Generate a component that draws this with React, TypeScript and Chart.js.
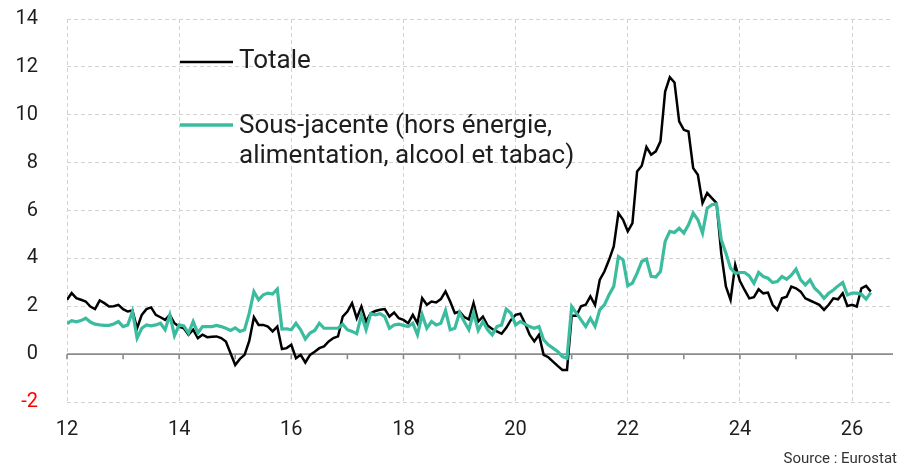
import React, { useEffect, useRef } from "react";
import { Chart, registerables } from "chart.js";

Chart.register(...registerables);

// ---- Data (monthly, starting January 2012) ----
const startYear = 2012;

const totale = [
  // 2012
  2.27, 2.55, 2.34, 2.27, 2.2, 1.99, 1.88, 2.24, 2.13, 1.99, 2.0, 2.06,
  // 2013
  1.88, 1.78, 1.82, 1.08, 1.64, 1.88, 1.95, 1.64, 1.54, 1.43, 1.64, 1.29,
  // 2014
  1.15, 1.08, 0.81, 1.02, 0.67, 0.81, 0.71, 0.73, 0.74, 0.67, 0.53, 0.04,
  // 2015
  -0.45, -0.2, -0.03, 0.55, 1.54, 1.22, 1.22, 1.15, 0.95, 1.15, 0.21, 0.25,
  // 2016
  0.39, -0.17, -0.03, -0.35, -0.03, 0.1, 0.25, 0.32, 0.53, 0.67, 0.74, 1.57,
  // 2017
  1.78, 2.13, 1.5, 1.99, 1.36, 1.71, 1.8, 1.85, 1.88, 1.57, 1.74, 1.5,
  // 2018
  1.43, 1.29, 1.64, 1.29, 2.34, 2.06, 2.2, 2.16, 2.3, 2.62, 2.2, 1.71,
  // 2019
  1.78, 1.55, 1.45, 2.13, 1.36, 1.57, 1.2, 1.05, 0.95, 0.85, 1.1, 1.43,
  // 2020
  1.64, 1.69, 1.29, 0.81, 0.53, 0.81, -0.03, -0.13, -0.31, -0.49, -0.66, -0.66,
  // 2021
  1.6, 1.6, 2.0, 2.06, 2.41, 2.05, 3.1, 3.45, 3.94, 4.5, 5.89, 5.61,
  // 2022
  5.13, 5.47, 7.63, 7.87, 8.65, 8.33, 8.47, 8.89, 10.97, 11.57, 11.35, 9.72,
  // 2023
  9.37, 9.3, 7.77, 7.49, 6.31, 6.73, 6.52, 6.31, 4.22, 2.83, 2.27, 3.73,
  // 2024
  3.05, 2.68, 2.33, 2.38, 2.71, 2.54, 2.57, 2.06, 1.85, 2.33, 2.4, 2.82,
  // 2025
  2.75, 2.61, 2.33, 2.24, 2.15, 2.06, 1.85, 2.06, 2.33, 2.29, 2.54, 2.01,
  // 2026
  2.06, 1.99, 2.75, 2.85, 2.61,
];

const sousJacente = [
  // 2012
  1.27, 1.4, 1.35, 1.4, 1.5, 1.34, 1.25, 1.22, 1.2, 1.2, 1.26, 1.36,
  // 2013
  1.15, 1.22, 1.78, 0.67, 1.08, 1.22, 1.18, 1.22, 1.29, 1.02, 1.64, 0.77,
  // 2014
  1.22, 1.18, 0.88, 1.36, 0.88, 1.15, 1.15, 1.15, 1.2, 1.15, 1.08, 0.99,
  // 2015
  1.1, 0.95, 1.02, 1.71, 2.61, 2.27, 2.48, 2.55, 2.51, 2.72, 1.05, 1.06,
  // 2016
  1.02, 1.29, 1.02, 0.63, 0.88, 0.99, 1.29, 1.08, 1.08, 1.08, 1.08, 1.25,
  // 2017
  1.02, 0.95, 0.85, 1.64, 1.02, 1.69, 1.64, 1.69, 1.57, 1.08, 1.22, 1.25,
  // 2018
  1.2, 1.15, 1.29, 0.81, 1.65, 1.08, 1.36, 1.22, 1.29, 1.82, 1.02, 1.08,
  // 2019
  1.74, 1.36, 1.02, 1.74, 0.99, 1.36, 1.02, 0.81, 1.15, 1.22, 1.88, 1.71,
  // 2020
  1.22, 1.36, 1.25, 1.15, 1.08, 1.15, 0.6, 0.39, 0.25, 0.11, -0.1, -0.17,
  // 2021
  1.99, 1.71, 1.43, 1.15, 1.5, 1.16, 1.85, 2.06, 2.48, 2.83, 4.08, 3.94,
  // 2022
  2.86, 2.97, 3.38, 3.87, 3.97, 3.25, 3.22, 3.45, 4.71, 5.13, 5.08, 5.26,
  // 2023
  5.06, 5.4, 5.89, 5.61, 5.06, 6.1, 6.24, 6.28, 4.78, 4.22, 3.59, 3.38,
  // 2024
  3.41, 3.41, 3.27, 2.96, 3.41, 3.24, 3.17, 2.99, 3.03, 3.24, 3.13, 3.3,
  // 2025
  3.55, 3.1, 2.89, 3.1, 2.75, 2.57, 2.33, 2.54, 2.68, 2.85, 2.99, 2.47,
  // 2026
  2.55, 2.55, 2.5, 2.3, 2.57,
];

const tickYears = [2012, 2013, 2014, 2015, 2016, 2017, 2018, 2019, 2020, 2021, 2022, 2023, 2024, 2025, 2026];
const labelYears = [2012, 2014, 2016, 2018, 2020, 2022, 2024, 2026];
const xTickLabels = ["12", "14", "16", "18", "20", "22", "24", "26"];
const yMin = -2;
const yMax = 14;
const yStep = 2;
const xMin = 2012;
const xMax = 2026.73;

const seriesNames = ["Totale", "Sous-jacente (hors énergie,\nalimentation, alcool et tabac)"];
const sourceText = "Source : Eurostat";

// ---- Styles ----
const FONT = "Roboto, 'Noto Sans', 'DejaVu Sans', sans-serif";
const BLACK = "#000000";
const GREEN = "#3bbc9e";
const GRID = "#d2d2d2";
const TEXT = "#1e1e1e";

const toPoints = (arr: number[]) => arr.map((v, i) => ({ x: startYear + i / 12, y: v }));

const decorations = {
  id: "decorations",
  beforeDatasetsDraw(chart: any) {
    const { ctx, chartArea, scales } = chart;
    const y0 = scales.y.getPixelForValue(0);
    ctx.save();
    ctx.strokeStyle = "#8c8c8c";
    ctx.lineWidth = 1.6;
    ctx.beginPath();
    ctx.moveTo(chartArea.left, y0);
    ctx.lineTo(chartArea.right, y0);
    for (const yr of tickYears) {
      const x = scales.x.getPixelForValue(yr);
      ctx.moveTo(x, y0);
      ctx.lineTo(x, y0 + 5);
    }
    ctx.stroke();
    ctx.restore();
  },
  afterDraw(chart: any) {
    const { ctx } = chart;
    ctx.save();
    // legend
    ctx.lineCap = "butt";
    ctx.strokeStyle = BLACK;
    ctx.lineWidth = 2.4;
    ctx.beginPath();
    ctx.moveTo(180, 62);
    ctx.lineTo(233, 62);
    ctx.stroke();
    ctx.strokeStyle = GREEN;
    ctx.lineWidth = 3.5;
    ctx.beginPath();
    ctx.moveTo(180, 125);
    ctx.lineTo(233, 125);
    ctx.stroke();

    ctx.fillStyle = TEXT;
    ctx.font = `26px ${FONT}`;
    ctx.textAlign = "left";
    ctx.textBaseline = "alphabetic";
    ctx.fillText(seriesNames[0], 239, 68);
    const lines = seriesNames[1].split("\n");
    lines.forEach((line, k) => ctx.fillText(line, 239, 133 + k * 30));

    // source
    ctx.font = `15px ${FONT}`;
    ctx.fillStyle = "#333333";
    ctx.textAlign = "right";
    ctx.fillText(sourceText, 897, 463);
    ctx.restore();
  },
};

export default function App() {
  const canvasRef = useRef<HTMLCanvasElement | null>(null);

  useEffect(() => {
    document.body.style.margin = "0";
    const canvas = canvasRef.current;
    if (!canvas) return;
    const chart = new Chart(canvas, {
      type: "line",
      data: {
        datasets: [
          {
            label: seriesNames[1],
            data: toPoints(sousJacente),
            borderColor: GREEN,
            borderWidth: 3.2,
            pointRadius: 0,
            tension: 0,
            fill: false,
          },
          {
            label: seriesNames[0],
            data: toPoints(totale),
            borderColor: BLACK,
            borderWidth: 2.5,
            pointRadius: 0,
            tension: 0,
            fill: false,
          },
        ],
      },
      options: {
        responsive: false,
        animation: false,
        devicePixelRatio: 1,
        layout: { padding: { top: 19, right: 11, left: 0, bottom: 0 } },
        plugins: {
          legend: { display: false },
          tooltip: { enabled: false },
          title: { display: false },
        },
        scales: {
          x: {
            type: "linear",
            min: xMin,
            max: xMax,
            afterFit: (s: any) => {
              s.height = 66;
              s.paddingLeft = 0;
              s.paddingRight = 0;
            },
            afterBuildTicks: (s: any) => {
              s.ticks = tickYears.map((v) => ({ value: v }));
            },
            ticks: {
              autoSkip: false,
              maxRotation: 0,
              minRotation: 0,
              padding: 16,
              color: TEXT,
              font: { family: FONT, size: 20 },
              callback: (v: any) => {
                const idx = labelYears.indexOf(Number(v));
                return idx >= 0 ? xTickLabels[idx] : "";
              },
            },
            grid: {
              drawTicks: false,
              lineWidth: 1,
              color: (c: any) =>
                c.tick && labelYears.indexOf(c.tick.value) >= 0 ? GRID : "rgba(0,0,0,0)",
            },
            border: { display: false, dash: [4, 3] },
          },
          y: {
            type: "linear",
            min: yMin,
            max: yMax,
            afterFit: (s: any) => {
              s.width = 67;
              s.paddingTop = 0;
              s.paddingBottom = 0;
            },
            ticks: {
              stepSize: yStep,
              padding: 29,
              font: { family: FONT, size: 20 },
              color: (c: any) => (c.tick && c.tick.value < 0 ? "#ff0000" : TEXT),
            },
            grid: { drawTicks: false, color: GRID, lineWidth: 1 },
            border: { display: false, dash: [4, 3] },
          },
        },
      },
      plugins: [decorations],
    } as any);
    return () => chart.destroy();
  }, []);

  return (
    <div style={{ width: 904, height: 468, position: "relative", background: "#ffffff" }}>
      <canvas ref={canvasRef} width={904} height={468} style={{ display: "block" }} />
    </div>
  );
}
